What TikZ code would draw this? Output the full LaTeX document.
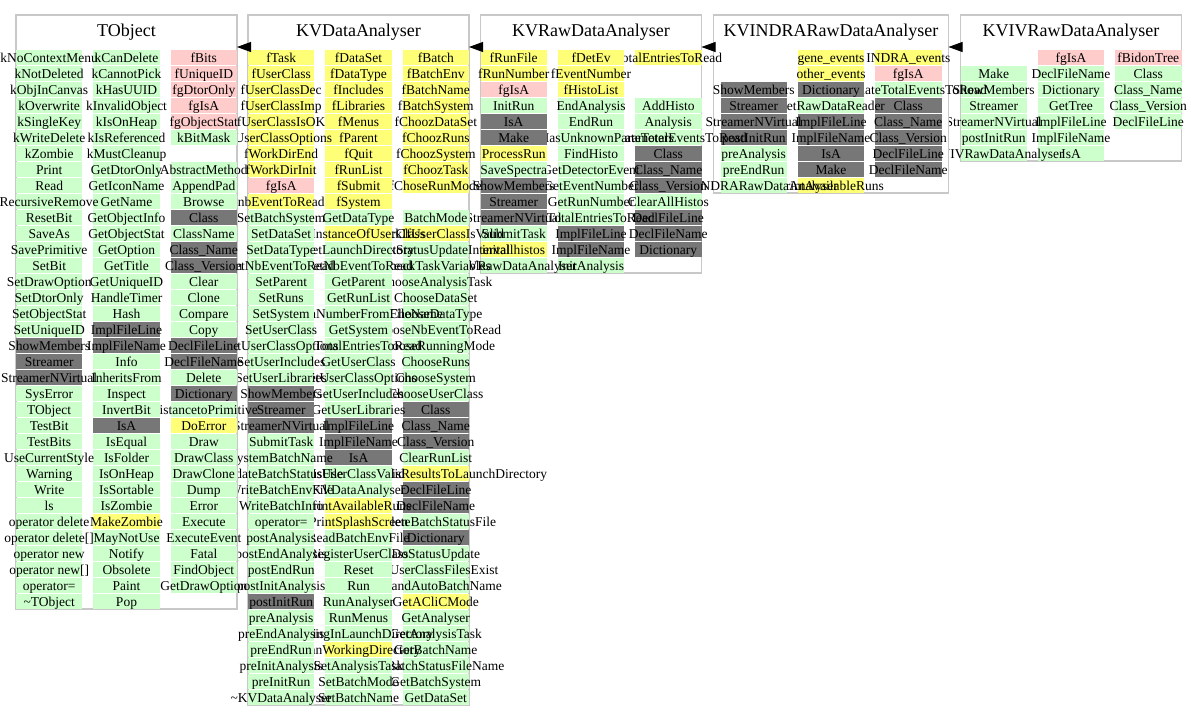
\documentclass[tikz,border=0pt]{standalone}
\usepackage{fontspec}
\setmainfont{Liberation Serif}
\usetikzlibrary{arrows.meta}
\definecolor{cG}{HTML}{CCFFCC}
\definecolor{cP}{HTML}{FFCCCC}
\definecolor{cY}{HTML}{FFFF77}
\definecolor{cD}{HTML}{777777}
\definecolor{bord}{HTML}{C8C8C8}
\def\Empt{E}
% one column of member cells: #1 = left x, #2 = list of colour/text
\newcommand\drawcol[2]{%
  \foreach \cl/\tx [count=\i from 0] in #2 {%
    \edef\tmpc{\cl}%
    \ifx\tmpc\Empt\else
      \fill[fill=c\cl] (#1,49.5+16*\i) rectangle ++(66.33,15);
      \node[celltext] at (#1+33.17,62+16*\i) {\tx};
    \fi}}
% TObject
\def\TOa{G/kNoContextMenu,G/kNotDeleted,G/kObjInCanvas,G/kOverwrite,G/kSingleKey,G/kWriteDelete,G/kZombie,G/Print,G/Read,G/RecursiveRemove,G/ResetBit,G/SaveAs,G/SavePrimitive,G/SetBit,G/SetDrawOption,G/SetDtorOnly,G/SetObjectStat,G/SetUniqueID,D/ShowMembers,D/Streamer,D/StreamerNVirtual,G/SysError,G/TObject,G/TestBit,G/TestBits,G/UseCurrentStyle,G/Warning,G/Write,G/ls,G/operator delete,G/operator delete[],G/operator new,G/operator new[],G/operator=,G/\textasciitilde TObject}
\def\TOb{G/kCanDelete,G/kCannotPick,G/kHasUUID,G/kInvalidObject,G/kIsOnHeap,G/kIsReferenced,G/kMustCleanup,G/GetDtorOnly,G/GetIconName,G/GetName,G/GetObjectInfo,G/GetObjectStat,G/GetOption,G/GetTitle,G/GetUniqueID,G/HandleTimer,G/Hash,D/ImplFileLine,D/ImplFileName,G/Info,G/InheritsFrom,G/Inspect,G/InvertBit,D/IsA,G/IsEqual,G/IsFolder,G/IsOnHeap,G/IsSortable,G/IsZombie,Y/MakeZombie,G/MayNotUse,G/Notify,G/Obsolete,G/Paint,G/Pop}
\def\TOc{P/fBits,P/fUniqueID,P/fgDtorOnly,P/fgIsA,P/fgObjectStat,G/kBitMask,E/,G/AbstractMethod,G/AppendPad,G/Browse,D/Class,G/ClassName,D/Class\_Name,D/Class\_Version,G/Clear,G/Clone,G/Compare,G/Copy,D/DeclFileLine,D/DeclFileName,G/Delete,D/Dictionary,G/DistancetoPrimitive,Y/DoError,G/Draw,G/DrawClass,G/DrawClone,G/Dump,G/Error,G/Execute,G/ExecuteEvent,G/Fatal,G/FindObject,G/GetDrawOption}
% KVDataAnalyser
\def\KDa{Y/fTask,Y/fUserClass,Y/fUserClassDec,Y/fUserClassImp,Y/fUserClassIsOK,Y/fUserClassOptions,Y/fWorkDirEnd,Y/fWorkDirInit,P/fgIsA,Y/nbEventToRead,G/SetBatchSystem,G/SetDataSet,G/SetDataType,G/SetNbEventToRead,G/SetParent,G/SetRuns,G/SetSystem,G/SetUserClass,G/SetUserClassOptions,G/SetUserIncludes,G/SetUserLibraries,D/ShowMembers,D/Streamer,D/StreamerNVirtual,G/SubmitTask,G/SystemBatchName,G/UpdateBatchStatusFile,G/WriteBatchEnvFile,G/WriteBatchInfo,G/operator=,G/postAnalysis,G/postEndAnalysis,G/postEndRun,G/postInitAnalysis,D/postInitRun,G/preAnalysis,G/preEndAnalysis,G/preEndRun,G/preInitAnalysis,G/preInitRun,G/\textasciitilde KVDataAnalyser}
\def\KDb{Y/fDataSet,Y/fDataType,Y/fIncludes,Y/fLibraries,Y/fMenus,Y/fParent,Y/fQuit,Y/fRunList,Y/fSubmit,Y/fSystem,G/GetDataType,Y/GetInstanceOfUserClass,G/GetLaunchDirectory,G/GetNbEventToRead,G/GetParent,G/GetRunList,G/GetRunNumberFromFileName,G/GetSystem,G/GetTotalEntriesToRead,G/GetUserClass,G/GetUserClassOptions,G/GetUserIncludes,G/GetUserLibraries,D/ImplFileLine,D/ImplFileName,D/IsA,G/IsUserClassValid,G/KVDataAnalyser,Y/PrintAvailableRuns,Y/PrintSplashScreen,G/ReadBatchEnvFile,G/RegisterUserClass,G/Reset,G/Run,G/RunAnalyser,G/RunMenus,G/RunningInLaunchDirectory,Y/ScanWorkingDirectory,G/SetAnalysisTask,G/SetBatchMode,G/SetBatchName}
\def\KDc{Y/fBatch,Y/fBatchEnv,Y/fBatchName,Y/fBatchSystem,Y/fChoozDataSet,Y/fChoozRuns,Y/fChoozSystem,Y/fChoozTask,Y/fChoseRunMode,E/,G/BatchMode,Y/CheckIfUserClassIsValid,G/CheckStatusUpdateInterval,G/CheckTaskVariables,G/ChooseAnalysisTask,G/ChooseDataSet,G/ChooseDataType,G/ChooseNbEventToRead,G/ChooseRunningMode,G/ChooseRuns,G/ChooseSystem,G/ChooseUserClass,D/Class,D/Class\_Name,D/Class\_Version,G/ClearRunList,Y/CopyAnalysisResultsToLaunchDirectory,D/DeclFileLine,D/DeclFileName,G/DeleteBatchStatusFile,D/Dictionary,G/DoStatusUpdate,G/DoUserClassFilesExist,G/ExpandAutoBatchName,Y/GetACliCMode,G/GetAnalyser,G/GetAnalysisTask,G/GetBatchName,G/GetBatchStatusFileName,G/GetBatchSystem,G/GetDataSet}
% KVRawDataAnalyser
\def\KRa{Y/fRunFile,Y/fRunNumber,P/fgIsA,G/InitRun,D/IsA,D/Make,Y/ProcessRun,G/SaveSpectra,D/ShowMembers,D/Streamer,D/StreamerNVirtual,G/SubmitTask,Y/initallhistos,G/\textasciitilde KVRawDataAnalyser}
\def\KRb{Y/fDetEv,Y/fEventNumber,Y/fHistoList,G/EndAnalysis,G/EndRun,G/EventHasUnknownParameters,G/FindHisto,G/GetDetectorEvent,G/GetEventNumber,G/GetRunNumber,G/GetTotalEntriesToRead,D/ImplFileLine,D/ImplFileName,G/InitAnalysis}
\def\KRc{Y/TotalEntriesToRead,E/,E/,G/AddHisto,G/Analysis,G/CalculateTotalEventsToRead,D/Class,D/Class\_Name,D/Class\_Version,G/ClearAllHistos,D/DeclFileLine,D/DeclFileName,D/Dictionary}
% KVINDRARawDataAnalyser
\def\KIa{E/,E/,D/ShowMembers,D/Streamer,D/StreamerNVirtual,D/postInitRun,G/preAnalysis,G/preEndRun,G/\textasciitilde KVINDRARawDataAnalyser}
\def\KIb{Y/gene\_events,Y/other\_events,D/Dictionary,G/GetRawDataReader,D/ImplFileLine,D/ImplFileName,D/IsA,D/Make,Y/PrintAvailableRuns}
\def\KIc{Y/INDRA\_events,P/fgIsA,G/CalculateTotalEventsToRead,D/Class,D/Class\_Name,D/Class\_Version,D/DeclFileLine,D/DeclFileName}
% KVIVRawDataAnalyser
\def\KVa{E/,G/Make,G/ShowMembers,G/Streamer,G/StreamerNVirtual,G/postInitRun,G/\textasciitilde KVIVRawDataAnalyser}
\def\KVb{P/fgIsA,G/DeclFileName,G/Dictionary,G/GetTree,G/ImplFileLine,G/ImplFileName,G/IsA}
\def\KVc{P/fBidonTree,G/Class,G/Class\_Name,G/Class\_Version,G/DeclFileLine}
\begin{document}
\begin{tikzpicture}[x=1pt,y=-1pt,
  celltext/.style={anchor=base,inner sep=0pt,font=\fontsize{13.5}{15}\selectfont},
  titletext/.style={anchor=base,inner sep=0pt,font=\fontsize{18}{20}\selectfont},
  cbox/.style={draw=bord,line width=1.5pt,fill=white,inner sep=0pt,outer sep=0pt,anchor=north west},
  inh/.style={-{Triangle[length=14pt,width=10pt]},black,line width=0.8pt}]
\useasboundingbox (0,0) rectangle (1197,720);
\fill[white] (0,0) rectangle (1197,720);
% KVIVRawDataAnalyser
\node[cbox,minimum width=221pt,minimum height=146pt] (kviv) at (960.5,15) {};
\node[titletext] (kvivT) at (1071,36) {KVIVRawDataAnalyser};
\drawcol{1115.17}{\KVc}
\drawcol{1037.83}{\KVb}
\drawcol{960.5}{\KVa}
% KVINDRARawDataAnalyser
\node[cbox,minimum width=235pt,minimum height=178pt] (kvindra) at (713.5,15) {};
\node[titletext] (kvindraT) at (831,36) {KVINDRARawDataAnalyser};
\drawcol{875.17}{\KIc}
\drawcol{797.83}{\KIb}
\drawcol{720.5}{\KIa}
% KVRawDataAnalyser
\node[cbox,minimum width=221pt,minimum height=258pt] (kvraw) at (480.5,15) {};
\node[titletext] (kvrawT) at (591,36) {KVRawDataAnalyser};
\drawcol{635.17}{\KRc}
\drawcol{557.83}{\KRb}
\drawcol{480.5}{\KRa}
% KVDataAnalyser
\node[cbox,minimum width=221pt,minimum height=690pt] (kvdata) at (248,15) {};
\node[titletext] (kvdataT) at (358.5,36) {KVDataAnalyser};
\drawcol{402.67}{\KDc}
\drawcol{325.33}{\KDb}
\drawcol{248}{\KDa}
% TObject
\node[cbox,minimum width=221pt,minimum height=594pt] (tobject) at (16,15) {};
\node[titletext] (tobjectT) at (126.5,36) {TObject};
\drawcol{170.67}{\TOc}
\drawcol{93.33}{\TOb}
\drawcol{16}{\TOa}
% inheritance arrows
\coordinate (ay) at (0,47);
\draw[inh] (kvdata.west |- ay) -- (tobject.east |- ay);
\draw[inh] (kvraw.west |- ay) -- (kvdata.east |- ay);
\draw[inh] (kvindra.west |- ay) -- (kvraw.east |- ay);
\draw[inh] (kviv.west |- ay) -- (kvindra.east |- ay);
\end{tikzpicture}
\end{document}
